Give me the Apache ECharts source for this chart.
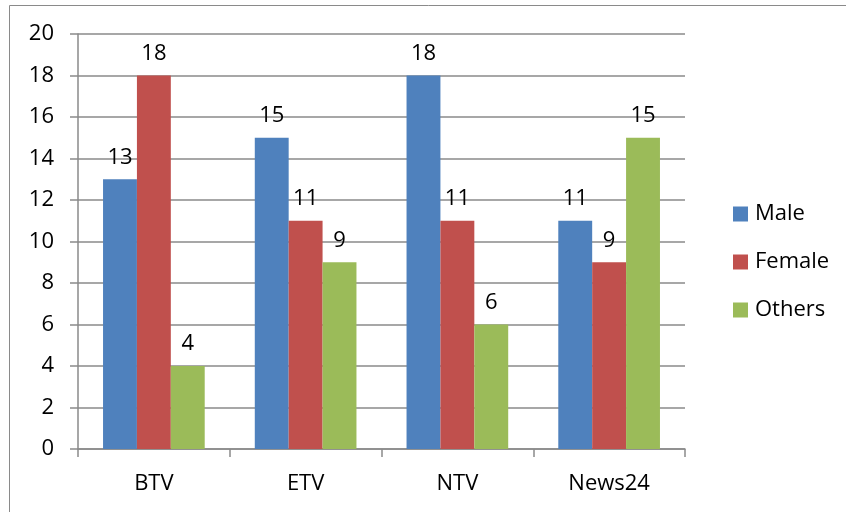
<!DOCTYPE html>
<html>
<head>
<meta charset="utf-8">
<script src="https://cdn.jsdelivr.net/npm/echarts@6/dist/echarts.min.js"></script>
<style>
  html, body { margin: 0; padding: 0; background: #fff; }
  #chart { width: 846px; height: 512px; }
</style>
</head>
<body>
<div id="chart"></div>
<script>
// Channels and viewer counts by gender
const channels = ['BTV', 'ETV', 'NTV', 'News24'];
const male = [13, 15, 18, 11];
const female = [18, 11, 11, 9];
const others = [4, 9, 6, 15];

const FONT = '"Open Sans", "Noto Sans", sans-serif';
const FONT_SIZE = 22;
const GRID_GRAY = '#8a8a8a';

function barSeries(name, data, color) {
  return {
    name,
    type: 'bar',
    data,
    barGap: '0%',
    barCategoryGap: '33%',
    itemStyle: { color },
    label: {
      show: true,
      position: 'top',
      distance: 11,
      color: '#000',
      fontFamily: FONT,
      fontSize: FONT_SIZE,
    },
  };
}

const chart = echarts.init(document.getElementById('chart'), null, { renderer: 'canvas' });
chart.setOption({
  animation: false,
  backgroundColor: '#fff',
  textStyle: { fontFamily: FONT },
  grid: { left: 78, right: 161, top: 34, bottom: 63, containLabel: false },
  legend: {
    orient: 'vertical',
    left: 728,
    top: 198,
    itemWidth: 15,
    itemHeight: 15,
    itemGap: 26,
    icon: 'rect',
    textStyle: { color: '#000', fontSize: FONT_SIZE, fontFamily: FONT, padding: [0, 0, 0, 2] },
    data: ['Male', 'Female', 'Others'],
  },
  xAxis: {
    type: 'category',
    data: channels,
    axisLine: { lineStyle: { color: GRID_GRAY, width: 1.5 } },
    axisTick: { show: true, length: 8, lineStyle: { color: GRID_GRAY, width: 1.5 } },
    axisLabel: { color: '#000', fontSize: FONT_SIZE, fontFamily: FONT, margin: 24 },
  },
  yAxis: {
    type: 'value',
    min: 0,
    max: 20,
    interval: 2,
    axisLine: { show: true, lineStyle: { color: GRID_GRAY, width: 1.5 } },
    axisTick: { show: true, length: 8, lineStyle: { color: GRID_GRAY, width: 1.5 } },
    axisLabel: { color: '#000', fontSize: FONT_SIZE, fontFamily: FONT, margin: 24 },
    splitLine: { lineStyle: { color: GRID_GRAY, width: 1.5 } },
  },
  graphic: [{
    type: 'rect',
    silent: true,
    shape: { x: 9.5, y: 5.5, width: 900, height: 600 },
    style: { fill: 'none', stroke: '#8a8a8a', lineWidth: 1 },
  }],
  series: [
    barSeries('Male', male, '#4F81BD'),
    barSeries('Female', female, '#C0504D'),
    barSeries('Others', others, '#9BBB59'),
  ],
});
</script>
</body>
</html>
